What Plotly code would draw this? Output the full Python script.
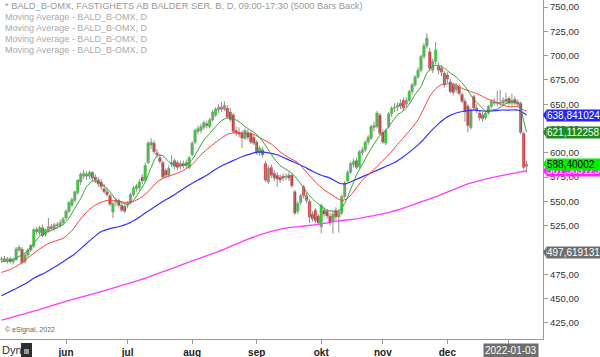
import pandas as pd
import plotly.graph_objects as go

# ---------------- data ----------------
holidays = ['2021-05-13', '2021-06-25', '2021-12-24', '2021-12-31', '2022-01-06']
dates = [d.strftime('%Y-%m-%d') for d in pd.bdate_range('2021-04-29', '2022-01-12')
         if d.strftime('%Y-%m-%d') not in holidays]

opens = [490,491,489,491,488,490,500,501,488,495,500,504,521,518,523,516,520,524,522,526,
         525,528,533,540,546,551,559,570,576,578,576,580,575,572,570,563,560,556,539,549,
         551,546,545,546,549,557,563,564,575,572,590,608,610,600,595,590,582,577,588,592,
         590,586,589,587,585,598,611,622,623,626,630,627,634,639,644,647,645,646,642,639,
         623,621,620,615,621,620,616,611,600,603,589,570,585,579,577,575,576,575,577,577,
         560,540,549,565,556,550,537,541,535,524,541,540,535,530,541,534,538,555,571,580,
         588,592,586,600,603,611,615,626,627,639,621,610,627,640,646,647,651,654,650,654,
         663,670,678,685,699,710,704,685,694,689,687,682,680,673,670,665,668,660,653,648,
         626,658,646,641,639,636,641,648,652,651,652,651,655,656,651,655,652,651,620,586]
highs = [493,494,493,493,492,503,505,503,497,502,506,523,524,525,526,522,533,527,528,529,
         531,534,542,550,554,561,573,580,582,581,582,581,578,575,573,568,564,558,550,554,
         553,549,547,550,559,566,568,573,578,590,612,615,613,604,599,592,584,587,598,594,
         592,592,592,593,597,612,625,628,630,633,633,636,644,647,650,652,653,649,646,641,
         627,626,623,625,624,622,618,613,607,606,592,587,588,582,580,578,579,579,580,579,
         562,550,558,567,559,552,540,543,537,548,544,542,538,540,544,542,557,571,582,591,
         594,595,603,606,613,618,629,632,643,641,624,625,642,648,651,652,655,657,657,665,
         672,680,688,701,713,723,708,697,714,693,690,684,683,676,672,672,671,662,656,650,
         646,660,650,644,642,643,649,655,656,664,665,657,662,658,661,658,655,653,622,592]
lows = [487,488,486,486,485,489,498,485,486,493,498,502,516,515,513,514,518,520,520,522,
        523,526,531,538,544,549,557,567,573,572,573,571,569,565,562,558,555,545,533,545,
        544,539,538,543,547,555,560,561,568,570,588,604,599,595,589,573,574,575,585,583,
        582,583,584,584,583,596,609,619,620,624,625,625,632,637,641,642,643,635,632,620,
        617,616,605,613,613,609,608,598,597,595,570,568,574,571,565,569,571,572,571,564,
        536,537,546,553,548,528,529,528,526,517,534,532,525,517,531,518,536,553,569,578,
        585,583,584,597,601,608,613,622,625,618,609,608,625,637,642,643,645,643,647,652,
        660,668,676,683,697,707,684,682,691,681,679,667,672,661,659,662,659,651,632,621,
        624,644,641,633,632,634,639,646,649,648,649,648,650,649,648,649,647,619,583,580]
closes = [491,489,491,488,490,501,503,487,495,500,505,521,519,523,515,521,524,522,526,525,
          528,532,540,549,552,560,572,578,579,576,580,574,572,568,565,560,557,547,548,551,
          546,541,540,548,557,564,566,570,571,587,610,611,601,598,591,575,577,584,590,586,
          585,589,587,590,595,610,623,625,627,631,628,634,642,645,647,645,649,637,634,622,
          620,619,615,623,616,611,610,600,605,598,572,584,577,574,573,572,574,576,574,566,
          538,548,556,556,551,534,532,530,528,546,537,535,528,537,534,539,555,569,580,589,
          591,585,601,603,611,616,627,628,641,620,611,623,640,646,647,649,648,646,654,663,
          670,678,685,699,710,718,687,694,706,685,683,670,676,663,662,669,661,653,642,628,
          644,646,644,636,635,641,648,653,651,652,651,654,653,651,654,651,650,621,585,588.4]

# moving averages: (bar index, value)
ma_green = [(0,488),(3,489),(5,492),(7,495),(9,499),(11,507),(13,514),(15,518),(17,520),(19,523),
            (21,526),(23,533),(25,543),(27,553),(29,565),(31,571),(33,570),(35,566),(37,560),(39,552),
            (41,549),(43,547),(45,551),(47,560),(49,570),(51,585),(53,597),(55,597),(57,591),(59,587),
            (61,587),(63,588),(65,593),(67,603),(69,613),(71,620),(73,627),(75,633),(77,636),(79,635),
            (81,632),(83,627),(85,623),(87,619),(89,612),(91,603),(93,594),(95,587),(97,583),(99,579),
            (101,572),(103,564),(105,556),(107,550),(109,545),(111,541),(113,540),(115,540),(117,548),
            (119,562),(121,577),(123,588),(125,599),(127,609),(129,618),(131,623),(133,631),(135,639),
            (137,643),(139,650),(141,660),(143,668),(145,682),(147,689),(149,690),(151,687),(153,682),
            (155,678),(157,672),(159,664),(161,655),(163,649),(165,643),(167,644),(169,645),(171,649),
            (173,652),(175,653),(176,652),(177,646),(178,633),(179,621.11)]
ma_red = [(0,477),(3,480),(6,485),(9,492),(12,499),(15,505),(18,509),(21,512),(24,520),(27,532),
          (30,542),(33,548),(36,551),(39,551),(42,549),(45,550),(47,553),(50,560),(53,570),(56,575),
          (59,578),(62,582),(65,588),(68,598),(71,606),(74,613),(77,619),(80,621),(83,620),(86,619),
          (89,614),(92,609),(95,601),(98,595),(101,590),(104,580),(107,570),(110,562),(113,556),
          (116,551),(118,553),(120,560),(122,568),(124,575),(126,580),(128,586),(130,592),(132,598),
          (134,605),(136,612),(138,619),(140,626),(142,634),(144,646),(146,658),(148,666),(150,670),
          (152,671),(154,671),(156,668),(158,665),(160,663),(162,661),(164,658),(166,655),(168,653),
          (170,650),(172,648),(174,647.5),(176,647.5),(177,646),(178,644),(179,643)]
ma_blue = [(0,453),(4,459),(8,465),(11,471),(15,477),(19,484),(22,490),(25,496),(28,504),(31,512),
           (34,519),(37,522),(40,524),(43,527),(46,532),(49,538),(52,544),(55,550),(58,555),(61,561),
           (64,567),(67,572),(70,577),(73,583),(76,588),(79,592),(82,596),(85,599),(88,601),(91,600),
           (94,598),(97,594),(100,590),(103,586),(106,581),(109,577),(112,574),(115,569),(117,568),
           (119,570),(122,574),(125,578),(128,582),(131,586),(134,590),(137,596),(140,603),(143,611),
           (146,621),(149,630),(152,637),(155,641),(158,643),(161,644),(164,643),(167,643),(170,644),
           (173,644),(176,644),(177,643),(178,641),(179,638.84)]
ma_magenta = [(0,428),(12,438),(24,449),(36,459),(48,470),(58,481),(68,492),(76,501),(83,510),
              (88,515.5),(93,520),(98,523),(104,525),(109,527),(115,530),(121,532),(127,535.5),
              (132,538.5),(137,543),(143,549.5),(149,556),(154,562),(159,568),(163,571.5),
              (168,575),(173,578),(177,580.5),(179,581.57)]

month_ticks = ['2021-06-01', '2021-07-01', '2021-08-02', '2021-09-01', '2021-10-01',
               '2021-11-01', '2021-12-01', '2022-01-03']
month_labels = ['jun', 'jul', 'aug', 'sep', 'okt', 'nov', 'dec', '']
y_ticks = [425, 450, 475, 500, 525, 550, 575, 600, 625, 650, 675, 700, 725, 750]

label_values = [638.841024, 621.112258, 581.569123, 588.40002, 497.619131]
label_colors = ['#2424ff', '#1e8c1e', '#ff22ff', '#00f000', '#6e6e6e']
label_text_colors = ['white', 'white', 'white', 'black', 'white']

legend_lines = ['* BALD_B-OMX, FASTIGHETS AB BALDER SER. B, D, 09:00-17:30 (5000 Bars Back)',
                'Moving Average - BALD_B-OMX, D', 'Moving Average - BALD_B-OMX, D',
                'Moving Average - BALD_B-OMX, D', 'Moving Average - BALD_B-OMX, D']

# ---------------- figure ----------------
W, H = 600, 357
ML, MR, MT, MB = 0, 57, 0, 18
PW, PH = W - ML - MR, H - MT - MB
Y0, Y1 = 408.5, 757.2
FONT = 'Arial, Liberation Sans, sans-serif'
UP, DOWN, EDGE = '#00f000', '#f00000', '#8f8f8f'

fig = go.Figure()

# wicks (high-low segments)
wx, wy = [], []
for d, lo, hi in zip(dates, lows, highs):
    wx += [d, d, None]
    wy += [lo, hi, None]
fig.add_trace(go.Scatter(x=wx, y=wy, mode='lines', line=dict(color=EDGE, width=1),
                         showlegend=False, hoverinfo='skip', connectgaps=False))

# bodies (open-close)
fig.add_trace(go.Bar(
    x=dates, base=[min(o, c) for o, c in zip(opens, closes)],
    y=[abs(c - o) for o, c in zip(opens, closes)], width=0.88,
    marker=dict(color=[UP if c >= o else DOWN for o, c in zip(opens, closes)],
                line=dict(color=EDGE, width=0.45)),
    showlegend=False, hoverinfo='skip'))

for pts, col, w in [(ma_magenta, '#ff3cff', 1.3), (ma_blue, '#3232ff', 1.2),
                    (ma_red, '#ff3a3a', 1.0), (ma_green, '#2fa02f', 1.0)]:
    fig.add_trace(go.Scatter(
        x=[dates[i] for i, _ in pts], y=[v for _, v in pts], mode='lines',
        line=dict(color=col, width=w, shape='spline', smoothing=0.6),
        showlegend=False, hoverinfo='skip'))

annotations = []
shapes = []
for i, t in enumerate(legend_lines):
    annotations.append(dict(xref='paper', yref='paper', x=0, xshift=3,
                            y=1 - (5.7 + 11 * i) / PH, xanchor='left', yanchor='middle',
                            text=t, showarrow=False,
                            font=dict(family=FONT, size=9.3 if i == 0 else 9,
                                      color='#999999' if i == 0 else '#aaaaaa')))

annotations.append(dict(xref='paper', yref='paper', x=0, xshift=3, y=(PH - 330) / PH,
                        xanchor='left', yanchor='middle', text='© eSignal, 2022', showarrow=False,
                        font=dict(family=FONT, size=7, color='#666666')))
annotations.append(dict(xref='paper', yref='paper', x=0, xshift=0, y=(PH - 350) / PH,
                        xanchor='left', yanchor='middle', text='Dyn', showarrow=False,
                        font=dict(family=FONT, size=11, color='#333333')))
annotations.append(dict(xref='x', yref='paper', x='2022-01-03', xshift=2, y=(PH - 350.5) / PH,
                        xanchor='center', yanchor='middle', text='2022-01-03', showarrow=False,
                        bgcolor='#6e6e6e', borderpad=1,
                        font=dict(family=FONT, size=10, color='white')))

# lock icon
shapes.append(dict(type='rect', xref='paper', yref='paper', x0=21 / PW, x1=32 / PW,
                   y0=(PH - 357) / PH, y1=(PH - 343) / PH, fillcolor='#2e2e2e', line=dict(width=0)))
shapes.append(dict(type='rect', xref='paper', yref='paper', x0=24 / PW, x1=29 / PW,
                   y0=(PH - 354) / PH, y1=(PH - 349) / PH, fillcolor='#9a9a9a', line=dict(width=0)))

hu = 5.6 * (Y1 - Y0) / PH
for v, bg, fc in zip(label_values, label_colors, label_text_colors):
    shapes.append(dict(type='path', xref='paper', yref='y',
                       path=f'M 1,{v} L {1 + 3.5 / PW},{v + hu} L {1 + 3.5 / PW},{v - hu} Z',
                       fillcolor=bg, line=dict(width=0)))
    annotations.append(dict(xref='paper', yref='y', x=1 + 3 / PW, y=v, xanchor='left',
                            yanchor='middle', text=str(v).replace('.', ','), showarrow=False,
                            bgcolor=bg, borderpad=0, width=54, height=11, align='left',
                            font=dict(family=FONT, size=10, color=fc)))

fig.update_layout(
    width=W, height=H, margin=dict(l=ML, r=MR, t=MT, b=MB),
    paper_bgcolor='white', plot_bgcolor='white', separators=', ',
    showlegend=False, annotations=annotations, shapes=shapes, barmode='overlay',
    xaxis=dict(type='category', categoryorder='array', categoryarray=dates,
               range=[-0.5, 184.6], tickvals=month_ticks, ticktext=month_labels,
               showline=True, linecolor='#9a9a9a', linewidth=1, ticks='outside', ticklen=4,
               tickcolor='#9a9a9a', showgrid=False, zeroline=False,
               tickfont=dict(family=FONT, size=10, color='#222222', weight='bold'),
               fixedrange=True),
    yaxis=dict(side='right', range=[Y0, Y1], tickvals=y_ticks, tickformat='.2f',
               showline=True, linecolor='#9a9a9a', linewidth=1, ticks='outside', ticklen=4,
               tickcolor='#9a9a9a', showgrid=False, zeroline=False,
               tickfont=dict(family=FONT, size=9.5, color='#333333'), fixedrange=True),
)

fig.write_html('out.html', config={'displayModeBar': False, 'staticPlot': True},
               post_script="document.body.style.margin='0';document.body.style.overflow='hidden';")
